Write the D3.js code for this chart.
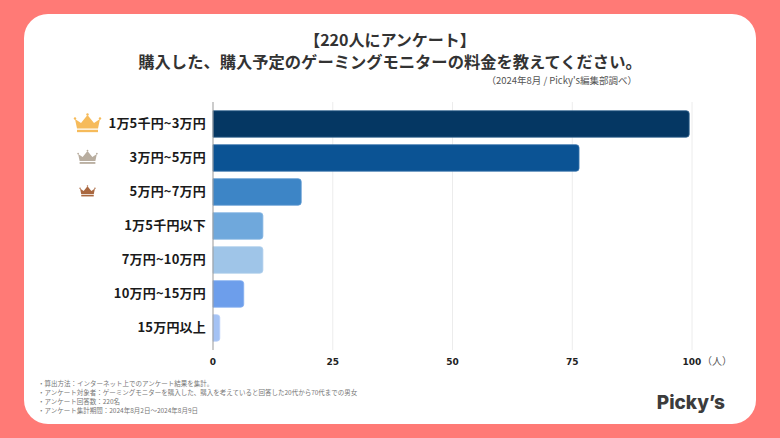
<!DOCTYPE html>
<html lang="ja">
<head>
<meta charset="utf-8">
<script src="https://cdn.jsdelivr.net/npm/d3@7"></script>
<style>
html,body{margin:0;padding:0;background:#ff7a76;overflow:hidden}
svg{display:block}
</style>
</head>
<body>
<svg id="chart" width="780" height="438"></svg>
<script>
const categories = ["1万5千円~3万円","3万円~5万円","5万円~7万円","1万5千円以下","7万円~10万円","10万円~15万円","15万円以上"];
const counts = [99, 76, 18, 10, 10, 6, 1];
const barColors = ["#053763","#0b5394","#3d85c6","#6fa8dc","#9fc5e8","#6d9eeb","#a4c2f4"];
const borderColors = ["#3a6a94","#3c76ad","#5f9ad2","#86b6e3","#b0cfec","#85aef0","#b6cef7"];
const ticks = [0, 25, 50, 75, 100];
const crownColors = ["#f6bb5b","#b8ad9f","#a9673f"];
const crownSizes = [26, 19.5, 15.5];
const titleLines = ["【220人にアンケート】","購入した、購入予定のゲーミングモニターの料金を教えてください。"];
const sourceNote = "（2024年8月 / Picky's編集部調べ）";
const footnotes = [
  "・算出方法：インターネット上でのアンケート結果を集計。",
  "・アンケート対象者：ゲーミングモニターを購入した、購入を考えていると回答した20代から70代までの男女",
  "・アンケート回答数：220名",
  "・アンケート集計期間：2024年8月2日～2024年8月9日"
];
const unitLabel = "（人）";
const brand = "Picky’s";

const JP = '"Noto Sans CJK JP","Noto Sans",sans-serif';
const svg = d3.select("#chart");

svg.append("rect").attr("x",24).attr("y",14).attr("width",732).attr("height",410).attr("rx",24).attr("fill","#fff");

const x = d3.scaleLinear().domain([0,100]).range([213,692]);
const y = d3.scaleBand().domain(categories).range([110.7,341.2]).paddingInner(0.22).paddingOuter(0);

// grid
svg.append("g").selectAll("line").data(ticks.slice(1)).join("line")
  .attr("x1",d=>x(d)).attr("x2",d=>x(d)).attr("y1",102).attr("y2",350)
  .attr("stroke","#ececec").attr("stroke-width",1);

// bars (the original's rounded outline overhangs the value by about 2px)
const barG = svg.append("g");
const overhang = 2;
categories.forEach((c,i)=>{
  const w = x(counts[i])-x(0)+overhang, h = y.bandwidth(), r = 3, x0 = x(0), y0 = y(c);
  const p = d3.path();
  p.moveTo(x0,y0); p.lineTo(x0+w-r,y0); p.quadraticCurveTo(x0+w,y0,x0+w,y0+r);
  p.lineTo(x0+w,y0+h-r); p.quadraticCurveTo(x0+w,y0+h,x0+w-r,y0+h); p.lineTo(x0,y0+h); p.closePath();
  barG.append("path").attr("d",p.toString()).attr("fill",barColors[i]).attr("stroke",borderColors[i]).attr("stroke-width",0.8);
});

// axis line
svg.append("line").attr("x1",x(0)).attr("x2",x(0)).attr("y1",102).attr("y2",350).attr("stroke","#999").attr("stroke-width",1);

// category labels
svg.append("g").selectAll("text").data(categories).join("text")
  .attr("x",206).attr("y",d=>y(d)+y.bandwidth()/2).attr("dy","0.3em").attr("text-anchor","end")
  .attr("font-family",JP).attr("font-weight",700).attr("font-size",13).attr("letter-spacing",0.2).attr("fill","#1a1a1a").text(d=>d);

// x ticks
svg.append("g").selectAll("text").data(ticks).join("text")
  .attr("x",d=>x(d)).attr("y",365).attr("text-anchor","middle")
  .attr("font-family",'"DejaVu Sans",sans-serif').attr("font-weight",700).attr("font-size",9).attr("fill","#222").text(d=>d);
svg.append("text").attr("x",702).attr("y",365).attr("font-family",JP).attr("font-size",10).attr("fill","#555").text(unitLabel);

// crowns
function crown(g,cx,cy,w,color){
  const s = w/26;
  const pts = [[-12.5,-4],[-6.5,0],[0,-8],[6.5,0],[12.5,-4],[10.5,5.5],[-10.5,5.5]];
  g.append("path").attr("d",d3.line().x(d=>cx+d[0]*s).y(d=>cy+d[1]*s)(pts)+"Z").attr("fill",color);
  [[-12.5,-4.5],[0,-8.5],[12.5,-4.5]].forEach(t=>g.append("circle").attr("cx",cx+t[0]*s).attr("cy",cy+t[1]*s).attr("r",1.2*s).attr("fill",color));
  g.append("rect").attr("x",cx-10.5*s).attr("y",cy+6.8*s).attr("width",21*s).attr("height",2.4*s).attr("fill",color);
}
const crownG = svg.append("g");
crownColors.forEach((col,i)=>crown(crownG,87.5,y(categories[i])+y.bandwidth()/2-1,crownSizes[i],col));

// title
svg.append("g").selectAll("text").data(titleLines).join("text")
  .attr("x",390).attr("y",(d,i)=>46+i*22).attr("text-anchor","middle")
  .attr("font-family",JP).attr("font-weight",700).attr("font-size",(d,i)=>i?16.3:16).attr("fill","#333").text(d=>d);
svg.append("text").attr("x",637).attr("y",84).attr("text-anchor","end")
  .attr("font-family",JP).attr("font-size",9.5).attr("fill","#555").text(sourceNote);

// footnotes
svg.append("g").selectAll("text").data(footnotes).join("text")
  .attr("x",38).attr("y",(d,i)=>386+i*9).attr("font-family",JP).attr("font-size",6.5).attr("fill","#777").text(d=>d);

// brand
svg.append("text").attr("x",725).attr("y",409).attr("text-anchor","end")
  .attr("font-family","Inter,Lato,sans-serif").attr("font-weight",800).attr("font-size",19).attr("fill","#3c3c3c").text(brand);
</script>
</body>
</html>
